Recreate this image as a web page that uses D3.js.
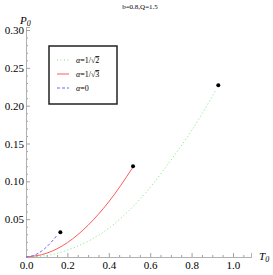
<!DOCTYPE html>
<html>
<head>
<meta charset="utf-8">
<script src="https://cdn.jsdelivr.net/npm/d3@7"></script>
<style>
  body { margin: 0; background: #fff; }
  svg text { font-family: 'Liberation Serif', 'DejaVu Serif', serif; }
</style>
</head>
<body>
<div class="chart"></div>
<script>
;(function init() {
  const width = 273
  const height = 275
  const serif = "'Liberation Serif', 'DejaVu Serif', serif"

  // values
  const seriesNames = ['α=1/√2', 'α=1/√3', 'α=0']
  const greenT = [0, 0.1, 0.2, 0.3, 0.4, 0.5, 0.6, 0.7, 0.8, 0.918]
  const greenP = [0, 0.002, 0.009, 0.021, 0.038, 0.062, 0.092, 0.128, 0.167, 0.221]
  const redT = [0, 0.1, 0.2, 0.3, 0.4, 0.515]
  const redP = [0, 0.005, 0.019, 0.042, 0.073, 0.118]
  const blueT = [0, 0.03, 0.06, 0.09, 0.12, 0.148]
  const blueP = [0, 0.0015, 0.005, 0.011, 0.019, 0.028]
  const endT = [0.929, 0.517, 0.166]
  const endP = [0.227, 0.12, 0.0326]
  const xTicks = [0, 0.2, 0.4, 0.6, 0.8, 1.0]
  const yTicks = [0.05, 0.1, 0.15, 0.2, 0.25, 0.3]

  const xScale = d3.scaleLinear().domain([0, 1.087]).range([26, 251])
  const yScale = d3.scaleLinear().domain([0, 0.304]).range([257, 27])

  const svg = d3
    .select('.chart')
    .append('svg')
    .attr('width', width)
    .attr('height', height)

  const xMinor = d3.range(0, 1.08, 0.05).filter((v) => !xTicks.some((t) => Math.abs(t - v) < 1e-6))
  const yMinor = d3.range(0.01, 0.301, 0.01).filter((v) => !yTicks.some((t) => Math.abs(t - v) < 1e-6))

  // minor ticks
  svg
    .append('g')
    .attr('transform', 'translate(0,' + yScale(0) + ')')
    .call(d3.axisBottom(xScale).tickValues(xMinor).tickSize(-2).tickFormat(''))
  svg
    .append('g')
    .attr('transform', 'translate(' + xScale(0) + ',0)')
    .call(d3.axisLeft(yScale).tickValues(yMinor).tickSize(-2).tickFormat(''))

  // major ticks with labels
  svg
    .append('g')
    .attr('class', 'axis')
    .attr('transform', 'translate(0,' + yScale(0) + ')')
    .call(d3.axisBottom(xScale).tickValues(xTicks).tickSize(-4).tickPadding(4).tickFormat(d3.format('.1f')))
  svg
    .append('g')
    .attr('class', 'axis')
    .attr('transform', 'translate(' + xScale(0) + ',0)')
    .call(d3.axisLeft(yScale).tickValues(yTicks).tickSize(-4).tickPadding(2).tickFormat(d3.format('.2f')))

  svg.selectAll('g').attr('font-family', serif)
  svg.selectAll('.domain').attr('stroke', '#b0b0b0').attr('stroke-width', 1)
  svg.selectAll('.tick line').attr('stroke', '#a0a0a0')
  svg.selectAll('.axis .tick text').attr('fill', '#000').style('font-size', '11px')

  // axis labels and title
  svg
    .append('text')
    .attr('x', 20)
    .attr('y', 24)
    .style('font-size', '11px')
    .style('font-style', 'italic')
    .html('P<tspan dy="2" font-size="8px">0</tspan>')
  svg
    .append('text')
    .attr('x', 259)
    .attr('y', 260)
    .style('font-size', '11px')
    .style('font-style', 'italic')
    .html('T<tspan dy="2" font-size="8px">0</tspan>')
  svg
    .append('text')
    .attr('x', 140)
    .attr('y', 9)
    .attr('text-anchor', 'middle')
    .style('font-size', '7px')
    .text('b=0.8,Q=1.5')

  const series = [
    { T: greenT, P: greenP, color: '#74e874', dash: '1,2.5' },
    { T: redT, P: redP, color: '#ff5a5a', dash: null },
    { T: blueT, P: blueP, color: '#6b6bff', dash: '3,2' }
  ]

  const line = d3
    .line()
    .x((d) => xScale(d[0]))
    .y((d) => yScale(d[1]))
    .curve(d3.curveMonotoneX)

  for (const s of series) {
    svg
      .append('path')
      .datum(s.T.map((t, i) => [t, s.P[i]]))
      .attr('d', line)
      .attr('fill', 'none')
      .attr('stroke', s.color)
      .attr('stroke-width', 1)
      .attr('stroke-dasharray', s.dash)
  }

  svg
    .selectAll('.end')
    .data(endT)
    .enter()
    .append('circle')
    .attr('cx', (d) => xScale(d))
    .attr('cy', (d, i) => yScale(endP[i]))
    .attr('r', 2)
    .attr('fill', '#000')

  // legend
  const legend = svg.append('g')
  legend
    .append('rect')
    .attr('x', 49)
    .attr('y', 46)
    .attr('width', 68)
    .attr('height', 58)
    .attr('fill', '#fff')
    .attr('stroke', '#222')
    .attr('stroke-width', 1.5)

  series.forEach((s, i) => {
    const y = 60 + i * 14
    legend
      .append('line')
      .attr('x1', 57)
      .attr('x2', 69)
      .attr('y1', y)
      .attr('y2', y)
      .attr('stroke', s.color)
      .attr('stroke-width', 1)
      .attr('stroke-dasharray', s.dash)
    const label = seriesNames[i]
    const t = legend
      .append('text')
      .attr('x', 76)
      .attr('y', y + 3)
      .style('font-size', '8px')
    const root = label.indexOf('√')
    t.append('tspan').style('font-style', 'italic').text(label[0])
    if (root < 0) {
      t.append('tspan').text(label.slice(1))
    } else {
      t.append('tspan').text(label.slice(1, root + 1))
      t.append('tspan').style('text-decoration', 'overline').text(label.slice(root + 1))
    }
  })
})()
</script>
</body>
</html>
